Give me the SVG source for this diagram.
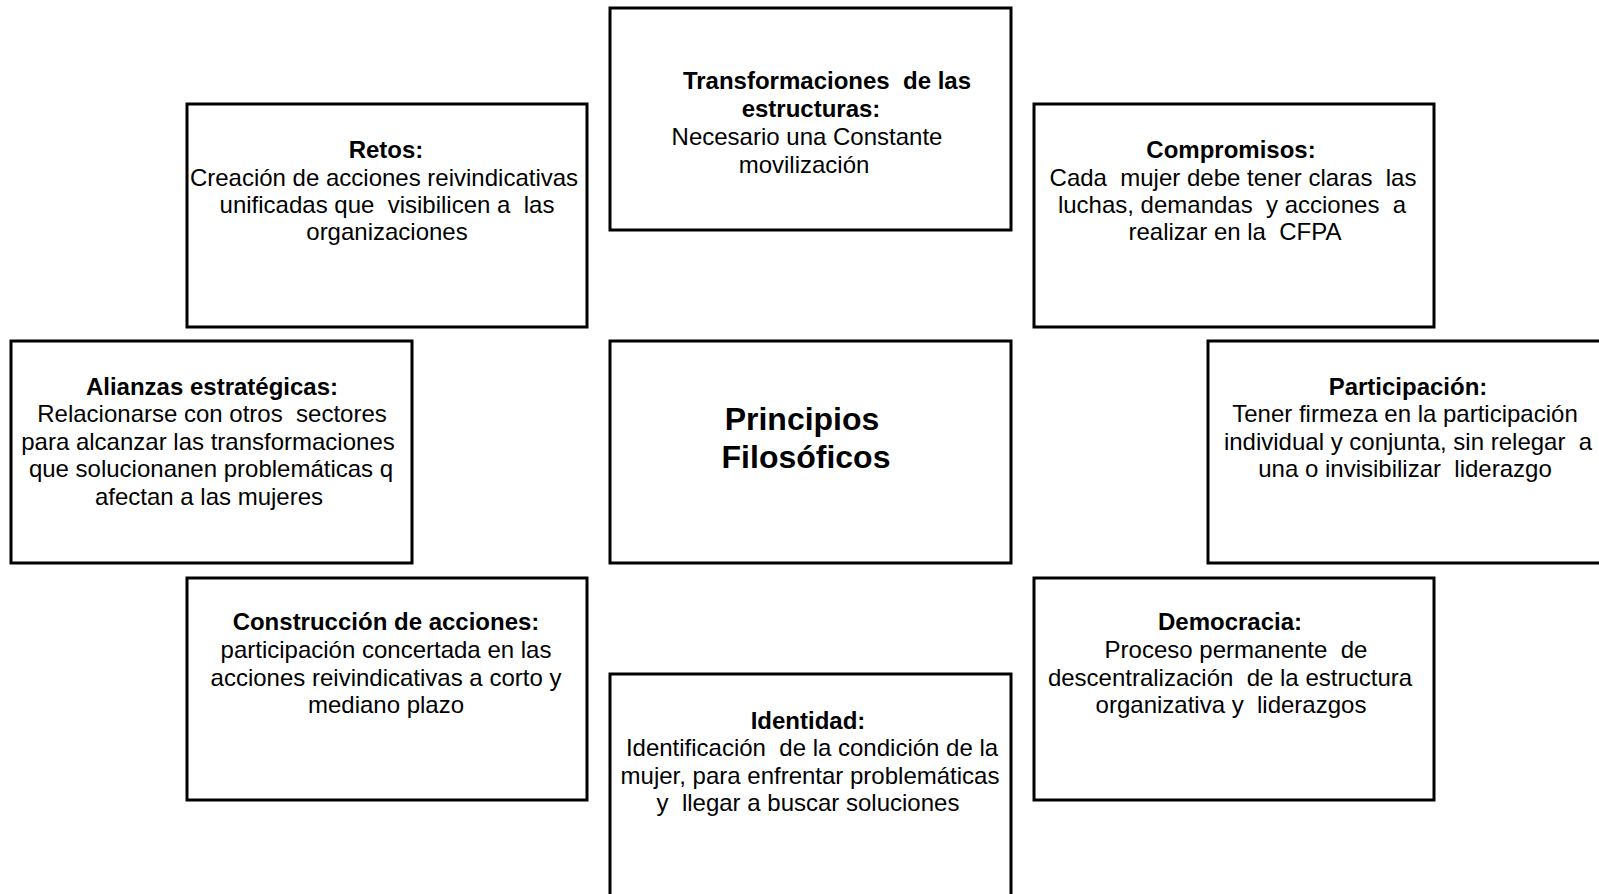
<svg xmlns="http://www.w3.org/2000/svg" width="1599" height="894" viewBox="0 0 1599 894">
<style>
.box{fill:#fff;stroke:#000;stroke-width:3}
text{font-family:"Liberation Sans",Arial,sans-serif;font-size:24px;fill:#000;text-anchor:middle;white-space:pre}
.b{font-weight:bold}
.big{font-weight:bold;font-size:32px}
</style>
<rect width="1599" height="894" fill="#fff"/>
<g id="connectors"/>
<g id="transformaciones">
<rect class="box" x="610" y="8" width="401" height="222"/>
<text xml:space="preserve"><tspan class="b" x="827" y="89">Transformaciones  de las</tspan><tspan class="b" x="811" y="117">estructuras:</tspan><tspan x="807" y="145">Necesario una Constante</tspan><tspan x="804" y="173">movilización</tspan></text>
</g>
<g id="retos">
<rect class="box" x="187" y="104" width="400" height="223"/>
<text xml:space="preserve"><tspan class="b" x="386" y="158">Retos:</tspan><tspan x="384" y="186">Creación de acciones reivindicativas</tspan><tspan x="387" y="213">unificadas que  visibilicen a  las</tspan><tspan x="387" y="240">organizaciones</tspan></text>
</g>
<g id="compromisos">
<rect class="box" x="1034" y="104" width="400" height="223"/>
<text xml:space="preserve"><tspan class="b" x="1231" y="158">Compromisos:</tspan><tspan x="1233" y="186">Cada  mujer debe tener claras  las</tspan><tspan x="1232" y="213">luchas, demandas  y acciones  a</tspan><tspan x="1235" y="240">realizar en la  CFPA</tspan></text>
</g>
<g id="alianzas">
<rect class="box" x="11" y="341" width="401" height="222"/>
<text xml:space="preserve"><tspan class="b" x="212" y="395">Alianzas estratégicas:</tspan><tspan x="212" y="422">Relacionarse con otros  sectores</tspan><tspan x="208" y="450">para alcanzar las transformaciones</tspan><tspan x="211" y="477">que solucionanen problemáticas q</tspan><tspan x="209" y="505">afectan a las mujeres</tspan></text>
</g>
<g id="principios">
<rect class="box" x="610" y="341" width="401" height="222"/>
<text><tspan class="big" x="802" y="430">Principios</tspan><tspan class="big" x="806" y="468">Filosóficos</tspan></text>
</g>
<g id="participacion">
<rect class="box" x="1208" y="341" width="401" height="222"/>
<text xml:space="preserve"><tspan class="b" x="1408" y="395">Participación:</tspan><tspan x="1405" y="422">Tener firmeza en la participación</tspan><tspan x="1408" y="450">individual y conjunta, sin relegar  a</tspan><tspan x="1405" y="477">una o invisibilizar  liderazgo</tspan></text>
</g>
<g id="construccion">
<rect class="box" x="187" y="578" width="400" height="222"/>
<text xml:space="preserve"><tspan class="b" x="386" y="630">Construcción de acciones:</tspan><tspan x="386" y="658">participación concertada en las</tspan><tspan x="386" y="686">acciones reivindicativas a corto y</tspan><tspan x="386" y="713">mediano plazo</tspan></text>
</g>
<g id="democracia">
<rect class="box" x="1034" y="578" width="400" height="222"/>
<text xml:space="preserve"><tspan class="b" x="1230" y="630">Democracia:</tspan><tspan x="1236" y="658">Proceso permanente  de</tspan><tspan x="1230" y="686">descentralización  de la estructura</tspan><tspan x="1231" y="713">organizativa y  liderazgos</tspan></text>
</g>
<g id="identidad">
<rect class="box" x="610" y="674" width="401" height="240"/>
<text xml:space="preserve"><tspan class="b" x="808" y="729">Identidad:</tspan><tspan x="812" y="756">Identificación  de la condición de la</tspan><tspan x="810" y="784">mujer, para enfrentar problemáticas</tspan><tspan x="808" y="811">y  llegar a buscar soluciones</tspan></text>
</g>
</svg>
